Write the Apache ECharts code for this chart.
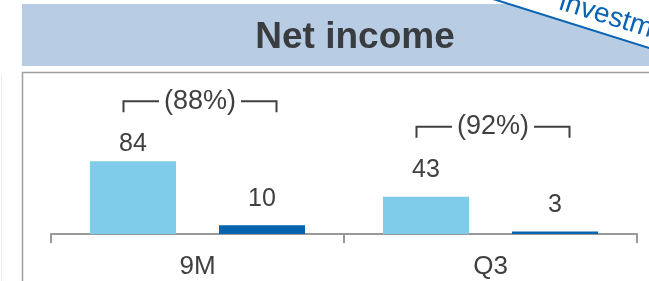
<!DOCTYPE html>
<html>
<head>
<meta charset="utf-8">
<script src="https://cdn.jsdelivr.net/npm/echarts@6/dist/echarts.min.js"></script>
<style>
  html, body { margin: 0; padding: 0; background: #fff; }
  #chart { width: 649px; height: 281px; }
</style>
</head>
<body>
<div id="chart"></div>
<script>
// data
var categories = ["9M", "Q3"];
var priorYear = [84, 43];
var currentYear = [10, 3];
var changeLabels = ["(88%)", "(92%)"];

var FONT = "Liberation Sans, Arial, sans-serif";
var TEXT = "#404040";

var myChart = echarts.init(document.getElementById("chart"));

// bracket "(xx%)" above each pair of bars
function renderBracket(params, api) {
  var idx = api.value(0);
  var top = api.coord([idx, api.value(1)]);
  var lift = idx === 0 ? 60 : 70;
  var y = top[1] - lift;
  var left = top[0] - 74;
  var right = top[0] + 79;
  var mid = (left + right) / 2;
  var half = 41;
  var st = { stroke: "#404040", lineWidth: 2, fill: null };
  return {
    type: "group",
    children: [
      { type: "polyline", shape: { points: [[left, y + 11], [left, y], [mid - half, y]] }, style: st },
      { type: "polyline", shape: { points: [[mid + half, y], [right, y], [right, y + 11]] }, style: st },
      {
        type: "text",
        x: mid,
        y: y,
        style: {
          text: changeLabels[idx],
          fill: TEXT,
          font: "27px " + FONT,
          align: "center",
          verticalAlign: "middle",
        },
      },
    ],
  };
}

var option = {
  animation: false,
  title: {
    text: "Net income",
    left: 355,
    top: 19,
    padding: 0,
    textAlign: "center",
    textStyle: { fontSize: 37, fontWeight: "bold", color: "#3a3d40", fontFamily: FONT },
  },
  graphic: [
    // title band
    { type: "rect", z: 0, shape: { x: 22, y: 4, width: 627, height: 62 }, style: { fill: "#b8cce4" } },
    // plot frame
    {
      type: "rect", z: 0,
      shape: { x: 22.5, y: 72.5, width: 700, height: 300 },
      style: { fill: null, stroke: "#a0a0a0", lineWidth: 1.5 },
    },
    // faint line at far left
    { type: "line", z: 0, shape: { x1: 1.5, y1: 75, x2: 1.5, y2: 281 }, style: { stroke: "#ececec", lineWidth: 1 } },
    // corner stamp
    {
      type: "polygon", z: 1,
      shape: { points: [[493, -2], [662, 51], [662, -2]] },
      style: { fill: "#ffffff" },
    },
    { type: "line", z: 2, shape: { x1: 493, y1: -1, x2: 662, y2: 52 }, style: { stroke: "#0a64b4", lineWidth: 2 } },
    {
      type: "text", z: 2, x: 556, y: 15, rotation: -0.3,
      style: { text: "investment", font: "28px " + FONT, fill: "#0a64b4", verticalAlign: "bottom" },
    },
    {
      type: "text", z: 2, x: 612, y: -11, rotation: -0.3,
      style: { text: "Exit", font: "28px " + FONT, fill: "#0a64b4", verticalAlign: "bottom" },
    },
  ],
  grid: { left: 51, right: 12, top: 72, bottom: 47 },
  xAxis: {
    type: "category",
    data: categories,
    axisLine: { lineStyle: { color: "#999999", width: 2 } },
    axisTick: { show: true, length: 9, lineStyle: { color: "#999999", width: 2 } },
    axisLabel: { fontSize: 26, color: TEXT, fontFamily: FONT, margin: 20 },
  },
  yAxis: { type: "value", show: false, min: 0, max: 187 },
  series: [
    {
      type: "bar",
      barWidth: 86,
      barGap: "50%",
      itemStyle: { color: "#7fcbea" },
      label: { show: true, position: "top", distance: 14, fontSize: 25, color: TEXT, fontFamily: FONT },
      data: [{ value: priorYear[0], label: { distance: 5 } }, priorYear[1]],
    },
    {
      type: "bar",
      barWidth: 86,
      itemStyle: { color: "#0563b0" },
      label: { show: true, position: "top", distance: 14, fontSize: 25, color: TEXT, fontFamily: FONT },
      data: currentYear,
    },
    {
      type: "custom",
      renderItem: renderBracket,
      data: categories.map(function (c, i) { return [i, priorYear[i]]; }),
      z: 5,
    },
  ],
};

myChart.setOption(option);
window.addEventListener("resize", myChart.resize);
</script>
</body>
</html>
